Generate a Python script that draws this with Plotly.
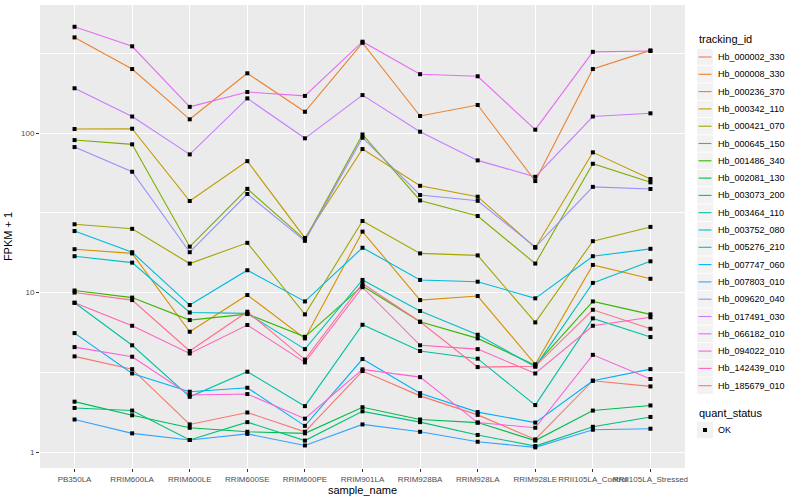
import plotly.graph_objects as go

samples = ["PB350LA", "RRIM600LA", "RRIM600LE", "RRIM600SE", "RRIM600PE", "RRIM901LA",
           "RRIM928BA", "RRIM928LA", "RRIM928LE", "RRII105LA_Control", "RRII105LA_Stressed"]

tracking_ids = ["Hb_000002_330", "Hb_000008_330", "Hb_000236_370", "Hb_000342_110", "Hb_000421_070",
                "Hb_000645_150", "Hb_001486_340", "Hb_002081_130", "Hb_003073_200", "Hb_003464_110",
                "Hb_003752_080", "Hb_005276_210", "Hb_007747_060", "Hb_007803_010", "Hb_009620_040",
                "Hb_017491_030", "Hb_066182_010", "Hb_094022_010", "Hb_142439_010", "Hb_185679_010"]

Hb_000002_330 = [3.98, 3.31, 1.49, 1.77, 1.34, 3.22, 2.25, 1.71, 1.20, 2.80, 2.58]
Hb_000008_330 = [398, 252, 122, 237, 136, 368, 128, 150, 50, 252, 330]
Hb_000236_370 = [18.7, 17.6, 5.68, 9.65, 5.16, 24.1, 8.97, 9.51, 3.55, 14.9, 12.2]
Hb_000342_110 = [106, 106.5, 37.5, 66.7, 22.0, 79.4, 46.7, 39.9, 19.1, 75.7, 51.5]
Hb_000421_070 = [26.8, 25.1, 15.2, 20.5, 7.3, 28.1, 17.6, 17.1, 6.5, 21.0, 25.8]
Hb_000645_150 = [90.4, 85, 19.4, 44.7, 21.5, 98, 37.8, 30.2, 15.2, 64.2, 49.1]
Hb_001486_340 = [10.3, 9.3, 6.72, 7.33, 5.28, 11.0, 6.56, 5.16, 3.5, 8.8, 7.3]
Hb_002081_130 = [2.07, 1.70, 1.42, 1.34, 1.31, 1.91, 1.60, 1.53, 1.18, 1.82, 1.96]
Hb_003073_200 = [1.89, 1.82, 1.19, 1.54, 1.18, 1.80, 1.54, 1.28, 1.09, 1.44, 1.66]
Hb_003464_110 = [8.63, 4.67, 2.22, 3.19, 1.94, 6.28, 4.30, 3.85, 1.97, 6.89, 5.26]
Hb_003752_080 = [16.9, 15.4, 7.5, 7.4, 4.42, 12.0, 7.66, 5.44, 3.43, 11.5, 15.7]
Hb_005276_210 = [24.3, 17.9, 8.35, 13.8, 8.8, 19.1, 12.0, 11.7, 9.2, 16.9, 18.8]
Hb_007747_060 = [5.57, 3.11, 2.39, 2.53, 1.46, 3.83, 2.34, 1.78, 1.53, 2.80, 3.31]
Hb_007803_010 = [1.60, 1.31, 1.19, 1.30, 1.10, 1.49, 1.34, 1.16, 1.07, 1.38, 1.40]
Hb_009620_040 = [81.7, 57.2, 17.9, 41.5, 21.1, 93.5, 40.9, 37.6, 19.3, 46, 44.6]
Hb_017491_030 = [191, 127, 73.5, 165, 92.7, 173, 102, 67.4, 53.2, 127, 133]
Hb_066182_010 = [464, 350, 146, 181, 171, 374, 234, 227, 105, 323, 327]
Hb_094022_010 = [4.55, 3.96, 2.28, 2.31, 1.62, 3.30, 2.95, 1.53, 1.42, 4.07, 2.87]
Hb_142439_010 = [8.63, 6.19, 4.15, 6.26, 3.65, 10.8, 4.67, 4.42, 3.11, 6.19, 7.0]
Hb_185679_010 = [10.0, 8.97, 4.3, 7.58, 3.8, 11.4, 6.56, 3.41, 3.45, 7.8, 5.93]

series_values = [Hb_000002_330, Hb_000008_330, Hb_000236_370, Hb_000342_110, Hb_000421_070,
                 Hb_000645_150, Hb_001486_340, Hb_002081_130, Hb_003073_200, Hb_003464_110,
                 Hb_003752_080, Hb_005276_210, Hb_007747_060, Hb_007803_010, Hb_009620_040,
                 Hb_017491_030, Hb_066182_010, Hb_094022_010, Hb_142439_010, Hb_185679_010]

colors = ["#F8766D", "#EA8331", "#D89000", "#C09B00", "#A3A500", "#7CAE00", "#39B600", "#00BB4E",
          "#00BF7D", "#00C1A3", "#00BFC4", "#00BAE0", "#00B0F6", "#35A2FF", "#9590FF", "#C77CFF",
          "#E76BF3", "#FA62DB", "#FF62BC", "#FF6C91"]

quant_status = "OK"

FONT = "Liberation Sans, Arial, sans-serif"
W, H = 800, 500
ML, MR, MT, MB = 40, 115, 5, 32
PW, PH = W - ML - MR, H - MT - MB


def px(x):
    return (x - ML) / PW


def py(y):
    return (H - MB - y) / PH


fig = go.Figure()
for i, (tid, vals) in enumerate(zip(tracking_ids, series_values)):
    fig.add_trace(go.Scatter(
        x=samples, y=vals, mode="lines", name=tid,
        line=dict(color=colors[i], width=1.1), hoverinfo="name+y",
    ))

all_x, all_y = [], []
for vals in series_values:
    all_x.extend(samples)
    all_y.extend(vals)
fig.add_trace(go.Scatter(
    x=all_x, y=all_y, mode="markers", name=quant_status,
    marker=dict(color="black", size=4, symbol="square"),
))

# manual ggplot-style legend
shapes, annots = [], []
annots.append(dict(xref="paper", yref="paper", x=px(697), y=py(38.5), text="tracking_id",
                   showarrow=False, xanchor="left", yanchor="middle",
                   font=dict(size=11, color="black", family=FONT)))
key_x0, key_x1 = 697, 713
for i, tid in enumerate(tracking_ids):
    yc = 57 + 17.3 * i
    shapes.append(dict(type="rect", xref="paper", yref="paper",
                       x0=px(key_x0), x1=px(key_x1), y0=py(yc - 8.2), y1=py(yc + 8.2),
                       fillcolor="#F2F2F2", line=dict(width=0), layer="above"))
    shapes.append(dict(type="line", xref="paper", yref="paper",
                       x0=px(key_x0 + 1.5), x1=px(key_x1 - 1.5), y0=py(yc), y1=py(yc),
                       line=dict(color=colors[i], width=1.1), layer="above"))
    annots.append(dict(xref="paper", yref="paper", x=px(716), y=py(yc), text=tid,
                       showarrow=False, xanchor="left", yanchor="middle",
                       font=dict(size=9, color="black", family=FONT)))
annots.append(dict(xref="paper", yref="paper", x=px(697), y=py(412.5), text="quant_status",
                   showarrow=False, xanchor="left", yanchor="middle",
                   font=dict(size=11, color="black", family=FONT)))
yc = 430
shapes.append(dict(type="rect", xref="paper", yref="paper",
                   x0=px(key_x0), x1=px(key_x1), y0=py(yc - 8.2), y1=py(yc + 8.2),
                   fillcolor="#F2F2F2", line=dict(width=0), layer="above"))
shapes.append(dict(type="rect", xref="paper", yref="paper",
                   x0=px(703), x1=px(707), y0=py(yc - 2), y1=py(yc + 2),
                   fillcolor="black", line=dict(width=0), layer="above"))
annots.append(dict(xref="paper", yref="paper", x=px(716), y=py(yc), text=quant_status,
                   showarrow=False, xanchor="left", yanchor="middle",
                   font=dict(size=9, color="black", family=FONT)))

fig.update_layout(
    width=W, height=H,
    margin=dict(l=ML, r=MR, t=MT, b=MB),
    paper_bgcolor="white",
    plot_bgcolor="#EBEBEB",
    font=dict(family=FONT, color="black"),
    showlegend=False,
    hovermode=False,
    shapes=shapes, annotations=annots,
    xaxis=dict(
        type="category", categoryorder="array", categoryarray=samples,
        range=[-0.6, len(samples) - 0.4],
        showgrid=True, gridcolor="white", gridwidth=1.1,
        zeroline=False, showline=False, tickangle=0,
        ticks="outside", ticklen=3, tickcolor="#333333", tickwidth=1,
        tickfont=dict(size=8, color="#4D4D4D", family=FONT),
        title=dict(text="sample_name", font=dict(size=11, color="black", family=FONT), standoff=3),
    ),
    yaxis=dict(
        type="log", range=[-0.1, 2.803],
        tickmode="array", tickvals=[1, 10, 100], ticktext=["1", "10", "100"],
        showgrid=True, gridcolor="white", gridwidth=1.1,
        zeroline=False, showline=False,
        ticks="outside", ticklen=3, tickcolor="#333333", tickwidth=1,
        tickfont=dict(size=8, color="#4D4D4D", family=FONT),
        minor=dict(tickmode="array", tickvals=[10 ** 0.5, 10 ** 1.5, 10 ** 2.5],
                   showgrid=True, gridcolor="white", gridwidth=0.5, ticks=""),
        title=dict(text="FPKM + 1", font=dict(size=11, color="black", family=FONT), standoff=6),
    ),
)

fig.write_html("out.html",
               config={"displayModeBar": False},
               post_script="document.body.style.margin='0';document.body.style.padding='0';")
